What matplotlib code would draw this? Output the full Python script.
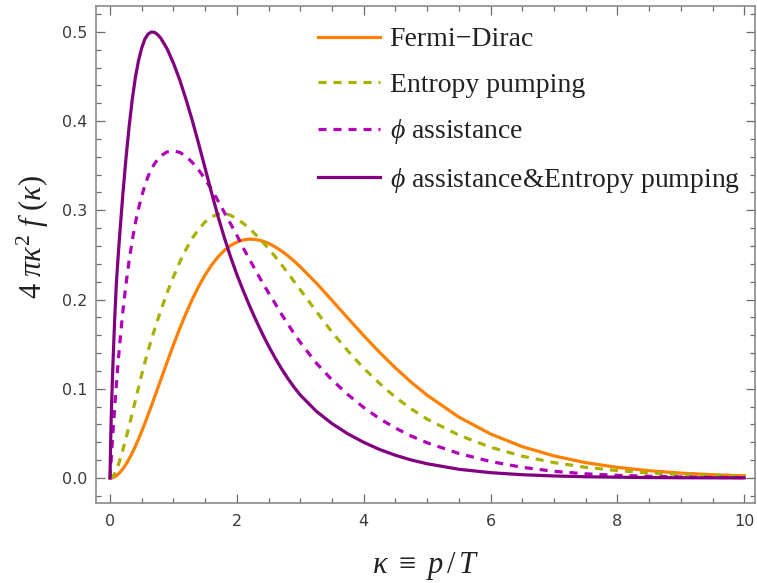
import matplotlib
matplotlib.use("Agg")
import matplotlib.pyplot as plt
from matplotlib.ticker import MultipleLocator, FormatStrFormatter

plt.rcParams['mathtext.fontset'] = 'custom'
plt.rcParams['mathtext.rm'] = 'Liberation Serif'
plt.rcParams['mathtext.it'] = 'Liberation Serif:italic'

# momentum grid (kappa = p/T)
kappa = [0, 0.01, 0.02, 0.035, 0.05, 0.075, 0.1, 0.125, 0.15, 0.2, 0.25, 0.3,
         0.35, 0.4, 0.45, 0.5, 0.55, 0.6, 0.65, 0.7, 0.75, 0.8,
         0.9, 1.0, 1.1, 1.2, 1.3, 1.4, 1.5, 1.6, 1.7, 1.8, 1.9, 2.0, 2.1, 2.2,
         2.3, 2.4, 2.5, 2.6, 2.7, 2.8, 2.9, 3.0,
         3.25, 3.5, 3.75, 4.0, 4.25, 4.5, 4.75, 5.0,
         5.5, 6.0, 6.5, 7.0, 7.5, 8.0, 8.5, 9.0, 9.5, 10.0]

fermi_dirac = [0, 0.00003, 0.00011, 0.00033, 0.00068, 0.0015, 0.0026, 0.0041,
               0.0058, 0.0100, 0.0152, 0.0212, 0.0281, 0.0356, 0.0437, 0.0523,
               0.0614, 0.0708, 0.0804, 0.0902, 0.1001, 0.1100,
               0.1299, 0.1492, 0.1676, 0.1849, 0.2007, 0.2150, 0.2277, 0.2385,
               0.2476, 0.2549, 0.2605, 0.2644, 0.2668, 0.2678, 0.2673, 0.2657,
               0.2630, 0.2592, 0.2546, 0.2493, 0.2433, 0.2367,
               0.2187, 0.1991, 0.1792, 0.1596, 0.1409, 0.1234, 0.1073, 0.0928,
               0.0683, 0.0494, 0.0352, 0.0248, 0.0172, 0.0119, 0.0082, 0.0055,
               0.0037, 0.0025]

entropy_pumping = [0, 0.0001, 0.0004, 0.0011, 0.0023, 0.0051, 0.0089, 0.0135,
                   0.019, 0.031, 0.044, 0.058, 0.0725, 0.087, 0.1015, 0.116,
                   0.1295, 0.1425, 0.1545, 0.166, 0.177, 0.1875,
                   0.2075, 0.2255, 0.242, 0.2565, 0.269, 0.279, 0.287, 0.2925,
                   0.2958, 0.2965, 0.2945, 0.2905, 0.2855, 0.2795, 0.2725, 0.265,
                   0.257, 0.2485, 0.2395, 0.230, 0.2205, 0.211,
                   0.187, 0.1635, 0.1425, 0.123, 0.106, 0.0905, 0.0775, 0.066,
                   0.048, 0.0345, 0.0245, 0.0173, 0.012, 0.0083, 0.0057, 0.0039,
                   0.0027, 0.0018]

phi_assistance = [0, 0.011, 0.022, 0.039, 0.055, 0.08, 0.104, 0.127, 0.148, 0.185,
                  0.216, 0.243, 0.266, 0.286, 0.302, 0.316, 0.328, 0.338, 0.346,
                  0.352, 0.357, 0.361,
                  0.3655, 0.3665, 0.365, 0.3605, 0.3535, 0.345, 0.335, 0.3235,
                  0.311, 0.298, 0.285, 0.272, 0.258, 0.245, 0.232, 0.2195, 0.2075,
                  0.196, 0.184, 0.173, 0.162, 0.152,
                  0.129, 0.110, 0.0935, 0.079, 0.0665, 0.056, 0.047, 0.0395,
                  0.0275, 0.0185, 0.012, 0.0075, 0.0047, 0.003, 0.0019, 0.0012,
                  0.0007, 0.0004]

phi_and_entropy = [0, 0.04, 0.07, 0.105, 0.135, 0.18, 0.218, 0.245, 0.27, 0.316,
                   0.357, 0.393, 0.424, 0.449, 0.468, 0.482, 0.492, 0.4975,
                   0.4998, 0.4995, 0.497, 0.493,
                   0.481, 0.465, 0.446, 0.424, 0.400, 0.374, 0.347, 0.32, 0.294,
                   0.27, 0.248, 0.228, 0.21, 0.193, 0.177, 0.162, 0.148, 0.135,
                   0.123, 0.112, 0.102, 0.093,
                   0.075, 0.061, 0.0495, 0.04, 0.032, 0.0255, 0.0202, 0.016,
                   0.0098, 0.006, 0.0037, 0.0023, 0.0014, 0.0009, 0.0005, 0.0003,
                   0.0002, 0.0001]

labels = ["Fermi\u2212Dirac", "Entropy pumping", r"$\phi$ assistance",
          r"$\phi$ assistance&Entropy pumping"]
colors = ["#FF8000", "#A8B000", "#B000B8", "#800080"]

fig = plt.figure(figsize=(7.57, 5.83), dpi=100)
W, H = 757, 583
ax = fig.add_axes([96 / W, 1 - 503 / H, (755 - 96) / W, (503 - 6) / H])

lw = 2.3
ax.plot(kappa, fermi_dirac, color=colors[0], lw=lw, label=labels[0])
ax.plot(kappa, entropy_pumping, color=colors[1], lw=lw, dashes=(2.5, 2.2),
        label=labels[1])
ax.plot(kappa, phi_assistance, color=colors[2], lw=lw, dashes=(2.5, 2.2),
        label=labels[2])
ax.plot(kappa, phi_and_entropy, color=colors[3], lw=lw, label=labels[3])

ax.set_xlim(-0.221, 10.17)
ax.set_ylim(-0.028, 0.529)

ax.xaxis.set_major_locator(MultipleLocator(2))
ax.xaxis.set_minor_locator(MultipleLocator(0.5))
ax.yaxis.set_major_locator(MultipleLocator(0.1))
ax.yaxis.set_minor_locator(MultipleLocator(0.02))
ax.yaxis.set_major_formatter(FormatStrFormatter('%.1f'))

for s in ax.spines.values():
    s.set_color('#8a8a8a')
    s.set_linewidth(1.2)

ax.tick_params(which='both', direction='in', top=True, right=True,
               color='#6a6a6a', width=0.9)
ax.tick_params(which='major', length=6.5, pad=6, labelsize=11.5,
               labelcolor='#3a3a3a')
ax.tick_params(axis='x', which='major', pad=8)
ax.tick_params(which='minor', length=3.6)
for t in ax.get_xticklabels() + ax.get_yticklabels():
    t.set_family('DejaVu Sans')

ax.set_xlabel(r"$\kappa\ \equiv\ p\,/\,T$", fontsize=22, color='#222222')
ax.set_ylabel(r"$4\ \pi\kappa^2\ f\,\,(\kappa)$", fontsize=22, color='#222222')
ax.xaxis.set_label_coords(0.5, (503 - 566) / 497)
ax.xaxis.label.set_va('center')
ax.yaxis.set_label_coords((33 - 96) / 660, (503 - 237) / 497)
ax.yaxis.label.set_va('center')

leg = ax.legend(loc='upper left', bbox_to_anchor=((318 - 96) / 660, (503 - 27) / 497),
                frameon=False, prop={'family': 'Liberation Serif', 'size': 20},
                handlelength=2.23, handletextpad=0.36, labelspacing=0.71,
                borderpad=0, borderaxespad=0)
for t in leg.get_texts():
    t.set_color('#222222')

fig.savefig("out.png", dpi=100)
